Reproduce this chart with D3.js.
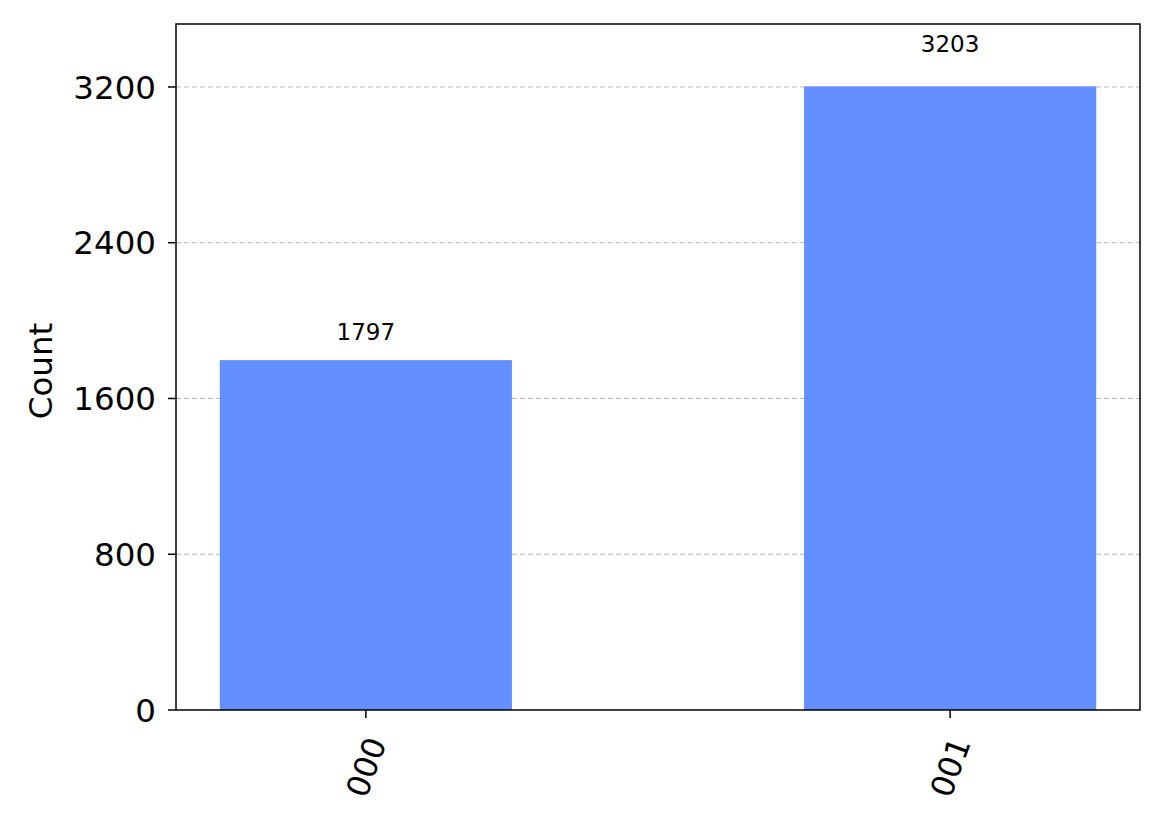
<!DOCTYPE html>
<html>
<head>
<meta charset="utf-8">
<script src="https://cdn.jsdelivr.net/npm/d3@7"></script>
<style>
  body { margin: 0; background: #fff; }
  text { font-family: "DejaVu Sans", sans-serif; fill: #000; }
</style>
</head>
<body>
<script>
// histogram data
const states = ['000', '001']
const counts = [1797, 3203]
const yTicks = [0, 800, 1600, 2400, 3200]

const m = {
    width: 1168,
    height: 826,
    left: 176,
    right: 1140,
    top: 24,
    bottom: 710
}

const svg = d3.select('body').append('svg')
    .attr('width', m.width)
    .attr('height', m.height)

const x = d3.scaleLinear()
    .domain([-0.325, states.length - 1 + 0.325])
    .range([m.left, m.right])

const y = d3.scaleLinear()
    .domain([0, d3.max(counts) * 1.1])
    .range([m.bottom, m.top])

// grid lines (behind bars)
svg.append('g')
    .selectAll('line')
    .data(yTicks.filter(d => d > 0))
    .enter()
    .append('line')
        .attr('x1', m.left)
        .attr('x2', m.right)
        .attr('y1', d => y(d))
        .attr('y2', d => y(d))
        .attr('stroke', '#b8b8b8')
        .attr('stroke-width', 1)
        .attr('stroke-dasharray', '5,3')

// bars
const barW = 0.5
svg.append('g')
    .selectAll('rect')
    .data(counts)
    .enter()
    .append('rect')
        .attr('x', (d, i) => x(i - barW / 2))
        .attr('width', (d, i) => x(i + barW / 2) - x(i - barW / 2))
        .attr('y', d => y(d))
        .attr('height', d => y(0) - y(d))
        .attr('fill', '#648fff')

// value labels
svg.append('g')
    .selectAll('text')
    .data(counts)
    .enter()
    .append('text')
        .attr('x', (d, i) => x(i))
        .attr('y', d => y(d * 1.05) - 3)
        .attr('text-anchor', 'middle')
        .attr('font-size', 23)
        .attr('fill', '#222')
        .text(d => d)

// frame
svg.append('rect')
    .attr('x', m.left)
    .attr('y', m.top)
    .attr('width', m.right - m.left)
    .attr('height', m.bottom - m.top)
    .attr('fill', 'none')
    .attr('stroke', '#000')
    .attr('stroke-width', 1.5)

// y axis ticks
const yAxis = svg.append('g')
yAxis.selectAll('line')
    .data(yTicks)
    .enter()
    .append('line')
        .attr('x1', m.left - 8)
        .attr('x2', m.left)
        .attr('y1', d => y(d))
        .attr('y2', d => y(d))
        .attr('stroke', '#000')
        .attr('stroke-width', 1.5)
yAxis.selectAll('text')
    .data(yTicks)
    .enter()
    .append('text')
        .attr('x', m.left - 20)
        .attr('y', d => y(d))
        .attr('dy', '0.36em')
        .attr('text-anchor', 'end')
        .attr('font-size', 32.5)
        .text(d => d)

// x axis ticks
const xAxis = svg.append('g')
xAxis.selectAll('line')
    .data(states)
    .enter()
    .append('line')
        .attr('x1', (d, i) => x(i))
        .attr('x2', (d, i) => x(i))
        .attr('y1', m.bottom)
        .attr('y2', m.bottom + 8)
        .attr('stroke', '#000')
        .attr('stroke-width', 1.5)
xAxis.selectAll('text')
    .data(states)
    .enter()
    .append('text')
        .attr('transform', (d, i) => `translate(${x(i)},${m.bottom + 57}) rotate(-70)`)
        .attr('text-anchor', 'middle')
        .attr('dy', '0.36em')
        .attr('font-size', 31.5)
        .text(d => d)

// y label
svg.append('text')
    .attr('transform', `translate(40,${(m.top + m.bottom) / 2 + 4}) rotate(-90)`)
    .attr('text-anchor', 'middle')
    .attr('dy', '0.36em')
    .attr('font-size', 32.5)
    .text('Count')
</script>
</body>
</html>
